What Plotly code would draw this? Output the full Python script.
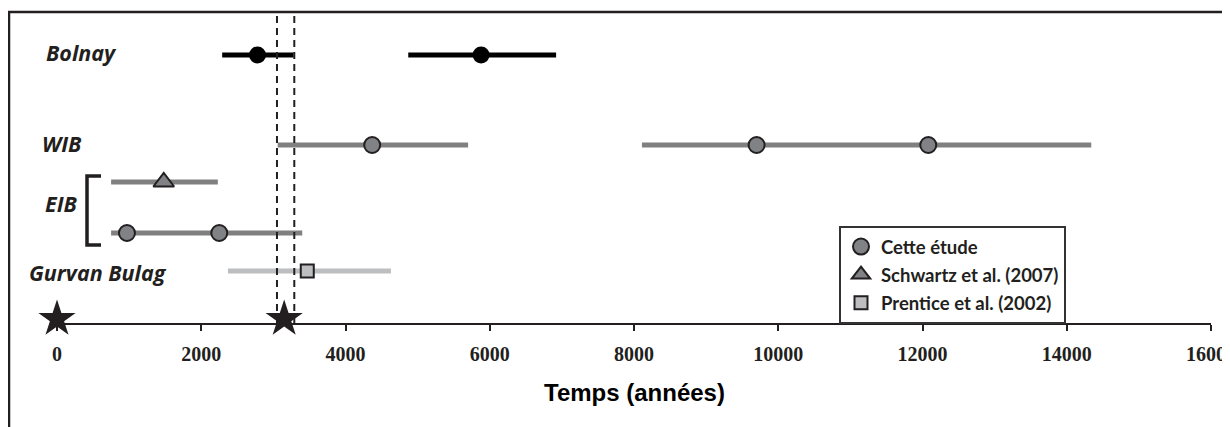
import plotly.graph_objects as go

# ---------------- data ----------------
sites = ["Bolnay", "WIB", "EIB", "Gurvan Bulag"]

bolnay_points = [2780, 5880]
bolnay_lo = [2290, 4870]
bolnay_hi = [3280, 6920]

wib_points = [4370, 9700, 12080]
wib_lo = [3060, 8110]
wib_hi = [5700, 14340]

eib_schwartz_points = [1480]
eib_schwartz_lo = [750]
eib_schwartz_hi = [2230]

eib_study_points = [970, 2250]
eib_study_lo = [750]
eib_study_hi = [3400]

gurvan_points = [3470]
gurvan_lo = [2370]
gurvan_hi = [4630]

star_events = [0, 3150]
dashed_limits = [3050, 3290]

tick_values = [0, 2000, 4000, 6000, 8000, 10000, 12000, 14000, 16000]
legend_names = ["Cette étude", "Schwartz et al. (2007)", "Prentice et al. (2002)"]
x_title = "Temps (années)"

# ---------------- layout geometry (viewport pixels) ----------------
PAGE_OFF = 8                      # default body margin of the html page
VW, VH = 1230, 427                # viewport
PLOT_X0, PLOT_X1 = 57, 1211       # plot area in viewport pixels
PLOT_Y0, PLOT_Y1 = 12, 323
W, H = VW - PAGE_OFF, VH - PAGE_OFF
L = PLOT_X0 - PAGE_OFF
T = PLOT_Y0 - PAGE_OFF
R = W - (PLOT_X1 - PAGE_OFF)
B = H - (PLOT_Y1 - PAGE_OFF)
PW, PH = PLOT_X1 - PLOT_X0, PLOT_Y1 - PLOT_Y0


def yrow(py):
    return PLOT_Y1 - py  # y-axis range is [0, PH] in pixel-like units


def xp(px):
    return (px - PLOT_X0) / PW


def yp(py):
    return (PLOT_Y1 - py) / PH


row_y = {
    "Bolnay": yrow(55),
    "WIB": yrow(145),
    "EIB_a": yrow(182),
    "EIB_b": yrow(233),
    "Gurvan": yrow(271),
    "stars": yrow(319),
}

DARK = "#231f20"
GRAY_LINE = "#808080"
GRAY_FILL = "#808285"
LIGHT_LINE = "#bcbec0"
LIGHT_FILL = "#bcbec0"


def segs(lo, hi, y):
    xs, ys = [], []
    for a, b in zip(lo, hi):
        xs += [a, b, None]
        ys += [y, y, None]
    return xs, ys


fig = go.Figure()

# range lines
for lo, hi, key, color in [
    (bolnay_lo, bolnay_hi, "Bolnay", "#000000"),
    (wib_lo, wib_hi, "WIB", GRAY_LINE),
    (eib_schwartz_lo, eib_schwartz_hi, "EIB_a", GRAY_LINE),
    (eib_study_lo, eib_study_hi, "EIB_b", GRAY_LINE),
    (gurvan_lo, gurvan_hi, "Gurvan", LIGHT_LINE),
]:
    xs, ys = segs(lo, hi, row_y[key])
    fig.add_trace(go.Scatter(x=xs, y=ys, mode="lines",
                             line=dict(color=color, width=5),
                             showlegend=False, hoverinfo="skip"))

# Bolnay points
fig.add_trace(go.Scatter(x=bolnay_points, y=[row_y["Bolnay"]] * len(bolnay_points),
                         mode="markers", showlegend=False,
                         marker=dict(symbol="circle", size=17, color="#000000",
                                     line=dict(width=0))))

# Cette étude circles
study_x = wib_points + eib_study_points
study_y = [row_y["WIB"]] * len(wib_points) + [row_y["EIB_b"]] * len(eib_study_points)
fig.add_trace(go.Scatter(x=study_x, y=study_y, mode="markers",
                         name="<b>" + legend_names[0] + "</b>", legendgroup="a",
                         marker=dict(symbol="circle", size=16, color=GRAY_FILL,
                                     line=dict(color=DARK, width=2))))

# Schwartz triangle
fig.add_trace(go.Scatter(x=eib_schwartz_points, y=[row_y["EIB_a"]] * len(eib_schwartz_points),
                         mode="markers",
                         name="<b>" + legend_names[1] + "</b>", legendgroup="b",
                         marker=dict(symbol="triangle-up", size=18, color=GRAY_FILL,
                                     line=dict(color=DARK, width=2))))

# Prentice square
fig.add_trace(go.Scatter(x=gurvan_points, y=[row_y["Gurvan"]] * len(gurvan_points),
                         mode="markers",
                         name="<b>" + legend_names[2] + "</b>", legendgroup="c",
                         marker=dict(symbol="square", size=13, color=LIGHT_FILL,
                                     line=dict(color=DARK, width=2))))

# stars
fig.add_trace(go.Scatter(x=star_events, y=[row_y["stars"]] * len(star_events),
                         mode="markers", showlegend=False, cliponaxis=False,
                         marker=dict(symbol="star", size=28, color=DARK,
                                     line=dict(width=0))))

shapes = []
# dashed vertical lines
for xv in dashed_limits:
    shapes.append(dict(type="line", xref="x", yref="paper", x0=xv, x1=xv, y0=0, y1=1,
                       line=dict(color=DARK, width=2, dash="7px,5px")))
# frame
shapes.append(dict(type="path", xref="paper", yref="paper",
                   path=f"M {xp(1250)} {yp(12)} L {xp(9)} {yp(12)} L {xp(9)} {yp(450)}",
                   line=dict(color=DARK, width=2.5)))
# EIB bracket
shapes.append(dict(type="path", xref="paper", yref="paper",
                   path=f"M {xp(101)} {yp(176)} L {xp(87)} {yp(176)} L {xp(87)} {yp(245)} L {xp(101)} {yp(245)}",
                   line=dict(color=DARK, width=3.5)))

label_font = dict(family="Open Sans", size=21.5, color=DARK, weight="bold", style="italic")
annotations = []
for name, px, py in [(sites[0], 44, 52), (sites[1], 40, 143), (sites[2], 43, 203), (sites[3], 27, 272)]:
    annotations.append(dict(text=name, xref="paper", yref="paper", x=xp(px), y=yp(py),
                            xanchor="left", yanchor="middle", showarrow=False,
                            font=label_font))
annotations.append(dict(text=x_title, xref="paper", yref="paper", x=xp(634), y=yp(392),
                        xanchor="center", yanchor="middle", showarrow=False,
                        font=dict(family="Liberation Sans", size=24, color="#000000", weight="bold")))

fig.update_layout(
    width=W, height=H,
    margin=dict(l=L, r=R, t=T, b=B, autoexpand=False),
    paper_bgcolor="white", plot_bgcolor="white",
    showlegend=True,
    legend=dict(x=xp(839), y=yp(226), xanchor="left", yanchor="top",
                bgcolor="white", bordercolor="#333333", borderwidth=2,
                font=dict(family="Lato", size=18.5, color=DARK),
                traceorder="grouped", tracegroupgap=1, itemwidth=30),
    xaxis=dict(range=[0, 16000], tickvals=tick_values, ticktext=[str(v) for v in tick_values],
               showline=True, linecolor=DARK, linewidth=2,
               ticks="outside", ticklen=6, tickwidth=2, tickcolor=DARK,
               showgrid=False, zeroline=False, fixedrange=True,
               tickfont=dict(family="Liberation Serif", size=20, color=DARK, weight="bold"),
               ticklabelstandoff=6, ticklabeloverflow="allow"),
    yaxis=dict(range=[0, PH], visible=False, fixedrange=True),
    shapes=shapes,
    annotations=annotations,
)

fig.write_html("out.html")
